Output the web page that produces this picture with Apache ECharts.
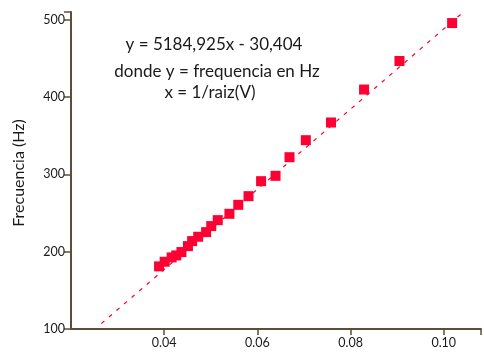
<!DOCTYPE html>
<html>
<head>
<meta charset="utf-8">
<script src="https://cdn.jsdelivr.net/npm/echarts@6/dist/echarts.min.js"></script>
<style>html,body{margin:0;padding:0;background:#fff}#c{width:484px;height:361px}</style>
</head>
<body>
<div id="c"></div>
<script>
const xValues = [0.0389, 0.0401, 0.0416, 0.0426, 0.0437, 0.0451, 0.0460, 0.0473, 0.0490, 0.0501, 0.0515, 0.0540, 0.0559, 0.0581, 0.0608, 0.0639, 0.0669, 0.0704, 0.0758, 0.0829, 0.0905, 0.1018];
const yValues = [181, 187, 192.6, 195.2, 199.5, 207.2, 213.7, 219.3, 225.3, 233.1, 240.8, 249.0, 260.6, 271.8, 291.2, 298.1, 322.2, 344.2, 367.1, 409.7, 446.6, 495.7];
const fitSlope = 5184.925;
const fitIntercept = -30.404;
const fitRange = [0.0265, 0.104];
const xTicks = [0.04, 0.06, 0.08, 0.10];
const yTicks = [100, 200, 300, 400, 500];
const textLines = ['y = 5184,925x - 30,404', 'donde y = frequencia en Hz', 'x = 1/raiz(V)'];
const yTitle = 'Frecuencia (Hz)';

const points = xValues.map((x, i) => [x, yValues[i]]);
const fitLine = fitRange.map(x => [x, fitSlope * x + fitIntercept]);
const red = '#ff0033';
const axisColor = '#5e4d38';
const font = 'Lato';
const txt = '#1a1a1a';

const chart = echarts.init(document.getElementById('c'), null, {renderer: 'canvas'});
chart.setOption({
  animation: false,
  backgroundColor: '#fff',
  grid: {left: 71, right: 0, top: 12, bottom: 32},
  xAxis: {
    type: 'value', min: 0.02, max: 0.108, interval: 0.02,
    axisLine: {lineStyle: {color: axisColor, width: 2}},
    axisTick: {show: true, length: 6, lineStyle: {color: axisColor, width: 1.5}},
    splitLine: {show: false},
    axisLabel: {showMinLabel: false, color: txt, fontFamily: font, fontSize: 12.5, margin: 7,
      formatter: v => xTicks.some(t => Math.abs(t - v) < 1e-9) ? v.toFixed(2) : ''}
  },
  yAxis: {
    type: 'value', min: 100, max: 510, interval: 100,
    axisLine: {show: true, lineStyle: {color: axisColor, width: 2}},
    axisTick: {show: true, length: 7, lineStyle: {color: axisColor, width: 1.5}},
    splitLine: {show: false},
    axisLabel: {color: txt, fontFamily: font, fontSize: 12.5, margin: 6,
      formatter: v => yTicks.includes(v) ? String(v) : ''}
  },
  graphic: [
    {type: 'text', x: 214, y: 45, style: {text: textLines[0], fontFamily: font, fontSize: 17, fill: txt, align: 'center', verticalAlign: 'middle'}},
    {type: 'text', x: 217, y: 72, style: {text: textLines[1], fontFamily: font, fontSize: 17, fill: txt, align: 'center', verticalAlign: 'middle'}},
    {type: 'text', x: 210, y: 93, style: {text: textLines[2], fontFamily: font, fontSize: 17, fill: txt, align: 'center', verticalAlign: 'middle'}},
    {type: 'text', x: 19, y: 173, rotation: Math.PI / 2, style: {text: yTitle, fontFamily: font, fontSize: 16, fill: txt, align: 'center', verticalAlign: 'middle'}}
  ],
  series: [
    {type: 'line', data: fitLine, symbol: 'none', z: 1,
     lineStyle: {color: red, width: 1.2, type: [4, 6]}},
    {type: 'scatter', data: points, symbol: 'rect', symbolSize: 10, z: 2,
     itemStyle: {color: red, opacity: 1}}
  ]
});
</script>
</body>
</html>
